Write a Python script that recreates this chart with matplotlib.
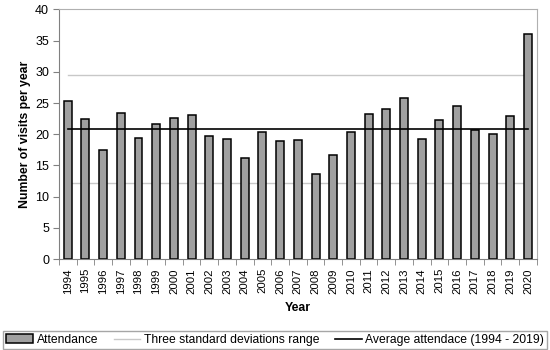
import matplotlib
matplotlib.use("Agg")
import matplotlib.pyplot as plt
import numpy as np

plt.rcParams['font.family'] = ['Liberation Sans', 'DejaVu Sans']

years = [str(y) for y in range(1994, 2021)]
attendance = [25.4, 22.4, 17.4, 23.4, 19.4, 21.6, 22.6, 23.1, 19.7, 19.3, 16.2, 20.4,
              18.9, 19.0, 13.6, 16.6, 20.4, 23.2, 24.1, 25.75, 19.3, 22.2, 24.6, 20.7,
              20.0, 23.0, 36.1]
average = 20.8
upper_sd = 29.5
lower_sd = 12.2

fig = plt.figure(figsize=(5.5, 3.5), dpi=100)
ax = fig.add_axes([0.107, 0.26, 0.869, 0.713])

x = np.arange(len(years))
bars = ax.bar(x, attendance, width=0.45, color='#a0a0a0', edgecolor='black', linewidth=1.1,
              label='Attendance', zorder=2)
sd1, = ax.plot([x[0], x[-1]], [upper_sd, upper_sd], color='#c8c8c8', linewidth=1.0,
               label='Three standard deviations range', zorder=1)
ax.plot([x[0], x[-1]], [lower_sd, lower_sd], color='#c8c8c8', linewidth=1.0, zorder=1)
avg, = ax.plot([x[0], x[-1]], [average, average], color='black', linewidth=1.2,
               label='Average attendace (1994 - 2019)', zorder=3)

ax.set_xlim(-0.5, len(years) - 0.5)
ax.set_ylim(0, 40)
ax.set_yticks(range(0, 41, 5))
ax.set_xticks(x)
ax.set_xticklabels(years, rotation=90, fontsize=8.2)
ax.set_xticks(np.arange(-0.5, len(years), 1), minor=True)
ax.tick_params(axis='x', which='major', length=0, pad=6.5)
ax.tick_params(axis='x', which='minor', length=4, color='#808080')
ax.tick_params(axis='y', labelsize=9, length=4, color='#808080', pad=3)

for side in ['top', 'right']:
    ax.spines[side].set_color('#b0b0b0')
for side in ['left', 'bottom']:
    ax.spines[side].set_color('#808080')

ax.set_ylabel('Number of visits per year', fontsize=8.8, fontweight='bold')
ax.yaxis.set_label_coords(-0.071, 0.5)
ax.yaxis.label.set_verticalalignment('center')
ax.set_xlabel('Year', fontsize=8.8, fontweight='bold')
ax.xaxis.set_label_coords(0.5, -0.196)
ax.xaxis.label.set_verticalalignment('center')

leg = fig.legend(handles=[bars, sd1, avg], loc='lower left',
                 bbox_to_anchor=(0.006, 0.003, 0.989, 0.052), mode='expand', ncol=3,
                 fontsize=8.7, frameon=True, fancybox=False, borderpad=0.25,
                 handlelength=2.2, handletextpad=0.3, columnspacing=1.0,
                 borderaxespad=0)
leg.get_frame().set_edgecolor('#909090')
leg.get_frame().set_linewidth(1.0)

fig.savefig('out.png', dpi=100)
